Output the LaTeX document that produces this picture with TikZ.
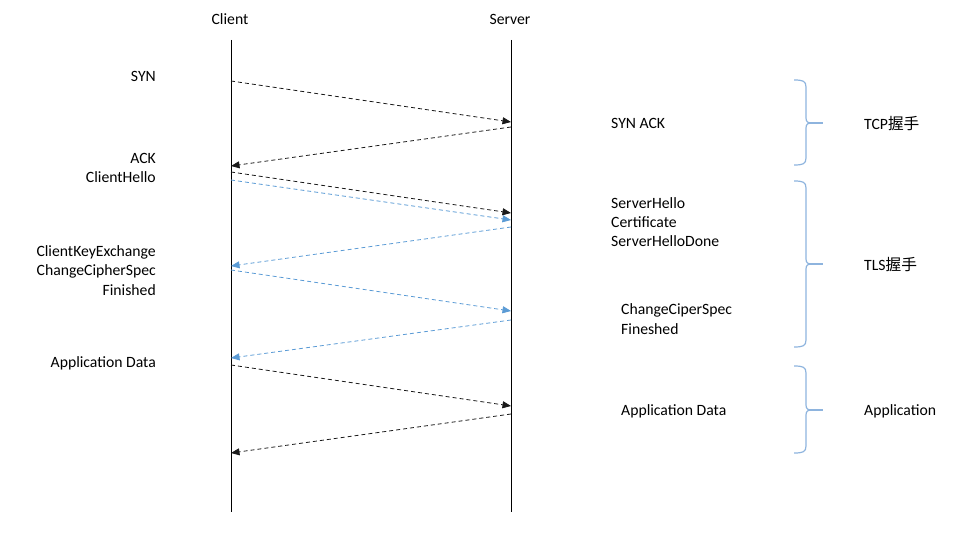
\documentclass[tikz,border=0pt]{standalone}
\usepackage{fontspec}
\setmainfont{Carlito}
\newfontfamily\cjk{Noto Sans CJK SC}
\usetikzlibrary{arrows.meta}
\definecolor{msgblue}{HTML}{5B9BD5}
\definecolor{braceblue}{HTML}{8EB4DE}
\definecolor{msgblack}{HTML}{1A1A1A}
\begin{document}
\begin{tikzpicture}[x=1pt,y=-1pt,
  txt/.style={font=\fontsize{15.7}{18.8}\selectfont, inner sep=0pt, text=black},
  lifeline/.style={draw=black, line width=0.9pt},
  msg/.style={draw=msgblack, line width=0.8pt, dash pattern=on 4pt off 3pt, -{Triangle[length=8.5pt,width=7pt]}},
  tlsmsg/.style={draw=msgblue, line width=0.8pt, dash pattern=on 4pt off 3pt, -{Triangle[length=8.5pt,width=7pt]}},
  bracestyle/.style={draw=braceblue, line width=1.2pt}]
\useasboundingbox (0,0) rectangle (960,534);
% lifelines
\node[txt] (client) at (230,19) {Client};
\node[txt] (server) at (510,19) {Server};
\coordinate (ctop) at (231,40); \coordinate (cbot) at (231,512);
\coordinate (stop) at (511,40); \coordinate (sbot) at (511,512);
\draw[lifeline] (ctop) -- (cbot);
\draw[lifeline] (stop) -- (sbot);
% message endpoints
\coordinate (c1) at (231,81);  \coordinate (s1) at (511,122);
\coordinate (s2) at (511,127); \coordinate (c2) at (231,166);
\coordinate (c3) at (231,172); \coordinate (s3) at (511,213);
\coordinate (c4) at (231,180); \coordinate (s4) at (511,220);
\coordinate (s5) at (511,227); \coordinate (c5) at (231,266);
\coordinate (c6) at (231,270); \coordinate (s6) at (511,311);
\coordinate (s7) at (511,320); \coordinate (c7) at (231,358);
\coordinate (c8) at (231,365); \coordinate (s8) at (511,406);
\coordinate (s9) at (511,414); \coordinate (c9) at (231,453);
\draw[msg] (c1) -- (s1);
\draw[msg] (s2) -- (c2);
\draw[msg] (c3) -- (s3);
\draw[tlsmsg] (c4) -- (s4);
\draw[tlsmsg] (s5) -- (c5);
\draw[tlsmsg] (c6) -- (s6);
\draw[tlsmsg] (s7) -- (c7);
\draw[msg] (c8) -- (s8);
\draw[msg] (s9) -- (c9);
% left labels
\node[txt, anchor=east] (lsyn) at (156,76) {SYN};
\node[txt, anchor=east] (lack) at (156,158) {ACK};
\node[txt, anchor=east] (lch) at (156,177) {ClientHello};
\node[txt, anchor=east] (lcke) at (156,252) {ClientKeyExchange};
\node[txt, anchor=east] (lccs) at (156,271) {ChangeCipherSpec};
\node[txt, anchor=east] (lfin) at (156,290) {Finished};
\node[txt, anchor=east] (lapp) at (156,363) {Application Data};
% right labels
\node[txt, anchor=west] (rsa) at (611,123) {SYN ACK};
\node[txt, anchor=west] (rsh) at (611,203) {ServerHello};
\node[txt, anchor=west] (rcert) at (611,222) {Certificate};
\node[txt, anchor=west] (rshd) at (611,241) {ServerHelloDone};
\node[txt, anchor=west] (rccs) at (621,310) {ChangeCiperSpec};
\node[txt, anchor=west] (rfin) at (621,329) {Fineshed};
\node[txt, anchor=west] (rapp) at (621,411) {Application Data};
% braces
\foreach \top/\mid/\bot in {80/123/165, 181/264/347, 366/410/453}{
  \draw[bracestyle] (794,\top) .. controls (803,\top) and (806,\top+1) .. (806,\top+7)
     -- (806,\mid-5) .. controls (806,\mid-1) and (808,\mid) .. (812,\mid)
     .. controls (808,\mid) and (806,\mid+1) .. (806,\mid+5)
     -- (806,\bot-7) .. controls (806,\bot-1) and (803,\bot) .. (794,\bot);
  \draw[bracestyle] (808,\mid) -- (823,\mid);
}
\node[txt, anchor=west] (tcp) at (864,124) {TCP{\cjk 握手}};
\node[txt, anchor=west] (tls) at (864,265) {TLS{\cjk 握手}};
\node[txt, anchor=west] (appl) at (864,411) {Application};
\end{tikzpicture}
\end{document}
